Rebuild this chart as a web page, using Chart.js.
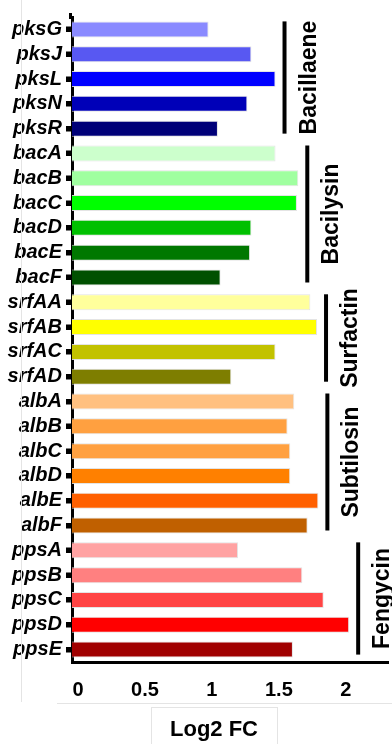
<!DOCTYPE html>
<html>
<head>
<meta charset="utf-8">
<script src="https://cdn.jsdelivr.net/npm/chart.js@4/dist/chart.umd.min.js"></script>
<style>
  html, body { margin: 0; padding: 0; background: #fff; }
  #wrap { position: relative; width: 392px; height: 744px; }
</style>
</head>
<body>
<div id="wrap"><canvas id="c"></canvas></div>
<script>
// Genes of the five lipopeptide / polyketide clusters
const genes = [
  'pksG', 'pksJ', 'pksL', 'pksN', 'pksR',
  'bacA', 'bacB', 'bacC', 'bacD', 'bacE', 'bacF',
  'srfAA', 'srfAB', 'srfAC', 'srfAD',
  'albA', 'albB', 'albC', 'albD', 'albE', 'albF',
  'ppsA', 'ppsB', 'ppsC', 'ppsD', 'ppsE'
];

// Log2 fold change per gene
const log2fc = [
  1.02, 1.34, 1.52, 1.31, 1.09,
  1.52, 1.69, 1.68, 1.34, 1.33, 1.11,
  1.78, 1.83, 1.52, 1.19,
  1.66, 1.61, 1.63, 1.63, 1.84, 1.76,
  1.24, 1.72, 1.88, 2.07, 1.65
];

const barColors = [
  '#8a8aff', '#5858f2', '#0000ff', '#0000b8', '#000078',
  '#ccffcc', '#a0ffa0', '#00ff00', '#00c000', '#007800', '#005000',
  '#ffff9c', '#ffff00', '#c2c200', '#7e7e00',
  '#ffc080', '#ffa040', '#ffa040', '#ff8000', '#ff6000', '#c06000',
  '#ffa2a2', '#ff8080', '#ff4444', '#ff0000', '#a00000'
];

// Gene clusters: name, first and last gene index
const clusterNames = ['Bacillaene', 'Bacilysin', 'Surfactin', 'Subtilosin', 'Fengycin'];
const clusterFirst = [0, 5, 11, 15, 21];
const clusterLast = [4, 10, 14, 20, 25];

const xTickValues = [0, 0.5, 1, 1.5, 2];
const xTitle = 'Log2 FC';

const FONT = '"Liberation Sans", Arial, sans-serif';

// Square tick marks on the gene axis and its short overshoot at the top
const geneAxisMarks = {
  id: 'geneAxisMarks',
  afterDraw(chart) {
    const { ctx, chartArea, scales: { y } } = chart;
    ctx.save();
    ctx.fillStyle = '#000';
    genes.forEach((g, i) => {
      const py = y.getPixelForValue(i);
      ctx.fillRect(chartArea.left - 6, Math.round(py) - 2.5, 5, 5);
    });
    ctx.fillRect(chartArea.left - 3, chartArea.top - 4, 3, 6);
    ctx.restore();
  }
};

// Bracket lines and rotated cluster names to the right of each cluster
const clusterBrackets = {
  id: 'clusterBrackets',
  afterDatasetsDraw(chart) {
    const { ctx, scales: { x, y } } = chart;
    ctx.save();
    clusterNames.forEach((name, i) => {
      const a = clusterFirst[i], b = clusterLast[i];
      const peak = Math.max(...log2fc.slice(a, b + 1));
      const lx = x.getPixelForValue(peak) + 9;
      const y0 = y.getPixelForValue(a) - 8;
      const y1 = y.getPixelForValue(b) + 5;
      ctx.strokeStyle = '#000';
      ctx.lineWidth = 4;
      ctx.beginPath();
      ctx.moveTo(lx, y0);
      ctx.lineTo(lx, y1);
      ctx.stroke();

      ctx.save();
      ctx.translate(lx + 31, (y0 + y1) / 2);
      ctx.rotate(-Math.PI / 2);
      ctx.fillStyle = '#000';
      ctx.font = 'bold 23px ' + FONT;
      ctx.textAlign = 'center';
      ctx.textBaseline = 'alphabetic';
      ctx.fillText(name, 0, 0);
      ctx.restore();
    });
    ctx.restore();
  }
};

// Axis title in a thin framed box under the value axis
const axisTitleBox = {
  id: 'axisTitleBox',
  afterDraw(chart) {
    const { ctx } = chart;
    ctx.save();
    ctx.strokeStyle = '#e4e4e4';
    ctx.lineWidth = 1;
    ctx.beginPath();
    ctx.moveTo(21.5, 0);
    ctx.lineTo(21.5, 702);
    ctx.moveTo(57, 703.5);
    ctx.lineTo(392, 703.5);
    ctx.stroke();
    ctx.strokeRect(151.5, 707.5, 126, 40);
    ctx.fillStyle = '#000';
    ctx.font = 'bold 22px ' + FONT;
    ctx.textAlign = 'center';
    ctx.textBaseline = 'alphabetic';
    ctx.fillText(xTitle, 214, 736);
    ctx.restore();
  }
};

new Chart(document.getElementById('c'), {
  type: 'bar',
  data: {
    labels: genes,
    datasets: [{
      data: log2fc,
      backgroundColor: barColors,
      borderColor: 'rgba(225,225,225,0.9)',
      borderWidth: 1,
      borderSkipped: 'left',
      barPercentage: 0.645,
      categoryPercentage: 1
    }]
  },
  options: {
    indexAxis: 'y',
    responsive: true,
    maintainAspectRatio: false,
    animation: false,
    layout: { padding: { top: 17, right: 4, left: 0, bottom: 0 } },
    plugins: {
      legend: { display: false },
      tooltip: { enabled: false },
      title: { display: false }
    },
    scales: {
      x: {
        type: 'linear',
        min: 0,
        max: 2.36,
        afterBuildTicks: s => { s.ticks = xTickValues.map(v => ({ value: v })); },
        afterFit: s => { s.height = 82; },
        grid: { display: false },
        border: { display: true, color: '#000', width: 3 },
        ticks: {
          color: '#000',
          padding: 8,
          labelOffset: 6,
          maxRotation: 0,
          font: { family: FONT, size: 20, weight: 'bold' },
          callback: v => String(v)
        }
      },
      y: {
        afterFit: s => { s.width = 72; },
        grid: {
          display: true,
          offset: false,
          drawOnChartArea: false,
          drawTicks: true,
          tickLength: 6,
          tickWidth: 5,
          tickColor: '#000'
        },
        border: { display: true, color: '#000', width: 3 },
        ticks: {
          color: '#000',
          padding: 4,
          autoSkip: false,
          font: { family: FONT, size: 20, weight: 'bold', style: 'italic' }
        }
      }
    }
  },
  plugins: [clusterBrackets, geneAxisMarks, axisTitleBox]
});
</script>
</body>
</html>
